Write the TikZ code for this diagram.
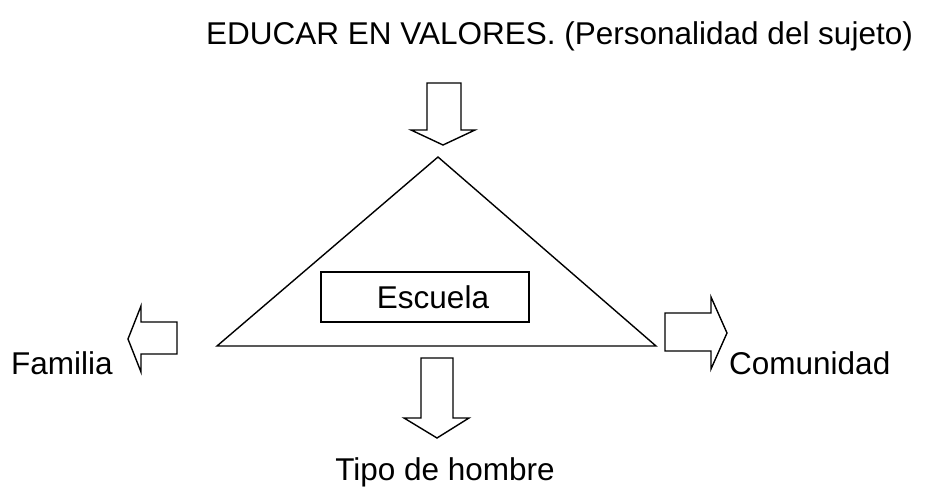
\documentclass[tikz,border=0pt]{standalone}
\usepackage{fontspec}
\setmainfont{Liberation Sans}
\begin{document}
\begin{tikzpicture}[x=1pt,y=-1pt,
  outl/.style={draw=black,line width=1.4pt,line join=miter},
  lbl/.style={inner sep=0pt,font=\fontsize{31.5}{36}\selectfont}]
\useasboundingbox (0,0) rectangle (929,489);
% title
\node[lbl,anchor=base west] (title) at (206,45) {EDUCAR EN VALORES. (Personalidad del sujeto)};
% top arrow
\draw[outl] (427,83) -- (461,83) -- (461,130) -- (475,130) -- (443,145) -- (411,130) -- (427,130) -- cycle;
% triangle
\draw[outl] (217,346) -- (438,157) -- (656,346) -- cycle;
% box
\node[outl,minimum width=208pt,minimum height=50pt,inner sep=0pt] (box) at (425,297) {};
\node[lbl,anchor=base] (escuela) at (433,308) {Escuela};
% left arrow
\draw[outl] (177,322) -- (177,354) -- (141,354) -- (141,372) -- (128,339) -- (141,306) -- (141,322) -- cycle;
\node[lbl,anchor=base west] (familia) at (11,374) {Familia};
% right arrow
\draw[outl] (665,313) -- (711,313) -- (711,297) -- (727,333) -- (711,369) -- (711,351) -- (665,351) -- cycle;
\node[lbl,anchor=base west] (comunidad) at (729,374) {Comunidad};
% bottom arrow
\draw[outl] (421,358) -- (453,358) -- (453,418) -- (469,418) -- (437,438) -- (404,418) -- (421,418) -- cycle;
\node[lbl,anchor=base] (tipo) at (445,480) {Tipo de hombre};
\end{tikzpicture}
\end{document}
